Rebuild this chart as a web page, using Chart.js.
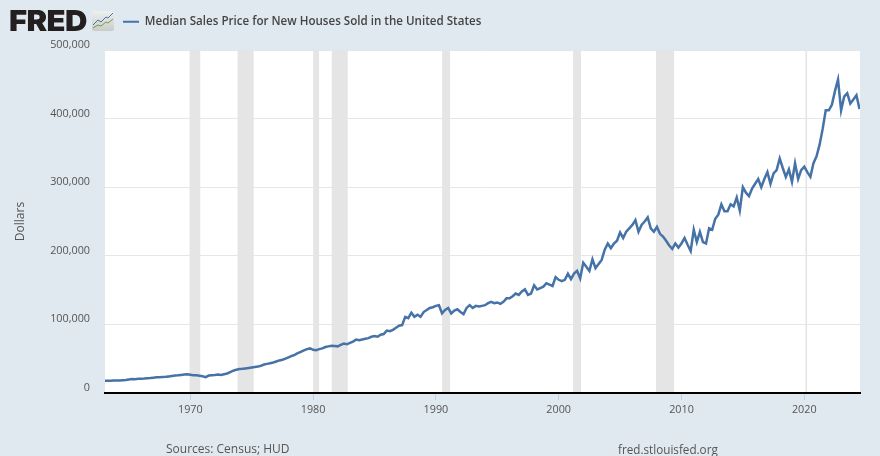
<!DOCTYPE html>
<html>
<head>
<meta charset="utf-8">
<title>Median Sales Price for New Houses Sold in the United States</title>
<script src="https://cdn.jsdelivr.net/npm/chart.js@4"></script>
<style>
    html, body { margin: 0; padding: 0; background: #e1e9f0; }
    #wrap { position: relative; width: 880px; height: 456px; overflow: hidden; font-family: "Open Sans", sans-serif; }
    canvas { position: absolute; left: 0; top: 0; }
    .logo { position: absolute; left: 9px; top: 3px; font: 900 29px/36px Inter, sans-serif; color: #231f20; letter-spacing: -0.6px; transform: scaleX(1.07); transform-origin: left center; }
    .icon { position: absolute; left: 92px; top: 11px; }
    .foot { position: absolute; top: 441px; font-size: 12px; line-height: 16px; color: #555; }
</style>
</head>
<body>
<div id="wrap">
    <canvas id="fredChart" width="880" height="456"></canvas>
    <div class="logo">FRED</div>
    <svg class="icon" width="22" height="20" viewBox="0 0 22 20">
        <defs><linearGradient id="g" x1="0" y1="0" x2="0" y2="1"><stop offset="0" stop-color="#eef0f0"/><stop offset="1" stop-color="#c9ccc8"/></linearGradient></defs>
        <rect width="22" height="20" rx="2" fill="url(#g)"/>
        <polyline points="1,14 6,9 9,11 14,6 16,7 21,2" fill="none" stroke="#4572a7" stroke-width="1"/>
        <polyline points="1,17 6,14 9,15 14,11 16,12 21,8" fill="none" stroke="#7a9a3a" stroke-width="1"/>
    </svg>
    <div class="foot" style="left:166px">Sources: Census; HUD</div>
    <div class="foot" style="left:618px;font-size:11.7px">fred.stlouisfed.org</div>
</div>
<script>
    // Quarterly values, starting 1963
    const startYear = 1963;
    const prices1960s = [
        17800, 18000, 17900, 18200, 18400, 18200, 18600, 19000, 19800, 20500, 20200, 20600, 20900, 21000,
        21600, 21900, 22400, 22800, 23000, 23500, 23600, 24200, 24800, 25400, 25800, 26400, 27000, 27200
    ];
    const prices1970s = [
        26600, 26000, 25800, 25000, 24300, 23000, 25400, 26000, 26200, 26800, 26400, 27400, 28500, 30500,
        32500, 34000, 35000, 35200, 35800, 36500, 37200, 38000, 38500, 39600, 41500, 42500, 43500, 44500,
        46000, 47500, 48500, 50000, 52000, 54000, 55500, 58000, 60000, 62000, 64000, 65000
    ];
    const prices1980s = [
        63000, 62500, 64000, 65000, 67000, 68000, 69000, 68500, 68000, 70000, 72000, 71000, 73000, 75000,
        78000, 77000, 78000, 79000, 80000, 82000, 83000, 82000, 85000, 86000, 91000, 90000, 92000, 95000,
        98000, 99000, 111000, 109000, 117000, 111000, 114000, 111000, 118000, 121000, 124000, 125000
    ];
    const prices1990s = [
        127000, 128000, 116000, 121000, 124000, 116000, 120000, 122000, 118000, 115000, 124000, 128000,
        124000, 127000, 126000, 127000, 128000, 131000, 133000, 131000, 132000, 130000, 133000, 138000,
        138000, 141000, 145000, 143000, 148000, 151000, 143000, 145000, 157000, 151000, 153000, 155000,
        160000, 158000, 156000, 169000
    ];
    const prices2000s = [
        165000, 163000, 165000, 174000, 166000, 174000, 178000, 167000, 190000, 184000, 178000, 195000,
        182000, 188000, 194000, 209000, 218000, 211000, 218000, 222000, 234000, 226000, 235000, 240000,
        245000, 252000, 235000, 245000, 250000, 256000, 240000, 235000, 242000, 232000, 228000, 222000,
        215000, 210000, 218000, 212000
    ];
    const prices2010s = [
        218000, 226000, 216000, 207000, 238000, 220000, 235000, 220000, 218000, 240000, 238000, 254000,
        260000, 275000, 265000, 265000, 275000, 272000, 285000, 266000, 300000, 292000, 287000, 298000,
        305000, 312000, 300000, 312000, 322000, 305000, 320000, 325000, 342000, 328000, 315000, 326000,
        308000, 335000, 312000, 325000
    ];
    const prices2020s = [
        330000, 322000, 315000, 335000, 345000, 362000, 385000, 412000, 412000, 420000, 440000, 457000,
        412000, 432000, 437000, 422000, 428000, 434000, 414000
    ];
    const prices = [...prices1960s, ...prices1970s, ...prices1980s, ...prices1990s, ...prices2000s, ...prices2010s, ...prices2020s];
    const years = prices.map((p, i) => startYear + i / 4);

    // Recession spans as decimal years
    const recessionStart = [1969.92, 1973.83, 1980.0, 1981.5, 1990.5, 2001.17, 2007.92, 2020.08];
    const recessionEnd = [1970.83, 1975.17, 1980.5, 1982.83, 1991.17, 2001.83, 2009.42, 2020.25];

    const yTicks = [0, 100000, 200000, 300000, 400000, 500000];
    const seriesName = 'Median Sales Price for New Houses Sold in the United States';
    const xMin = 1963.05;
    const xMax = 2024.54;

    // White plot background
    const plotBackground = {
        id: 'plotBackground',
        beforeDraw(chart) {
            const a = chart.chartArea;
            chart.ctx.fillStyle = '#ffffff';
            chart.ctx.fillRect(a.left, a.top, a.right - a.left, a.bottom - a.top);
        }
    };

    const bands = recessionStart.map((s, i) => ({
        label: 'Recession',
        data: [{ x: s, y: yTicks[yTicks.length - 1] }, { x: recessionEnd[i], y: yTicks[yTicks.length - 1] }],
        fill: 'origin',
        backgroundColor: '#e5e5e5',
        borderWidth: 0,
        pointRadius: 0
    }));

    new Chart(document.getElementById('fredChart').getContext('2d'), {
        type: 'line',
        data: {
            datasets: [{
                label: seriesName,
                data: years.map((y, i) => ({ x: y, y: prices[i] })),
                borderColor: '#4572a7',
                backgroundColor: '#4572a7',
                borderWidth: 2.5,
                pointRadius: 0,
                tension: 0
            }, ...bands]
        },
        plugins: [plotBackground],
        options: {
            responsive: false,
            animation: false,
            layout: { padding: { top: -2, right: 20 } },
            scales: {
                x: {
                    type: 'linear',
                    min: xMin,
                    max: xMax,
                    afterFit: s => { s.height = 63; },
                    border: { color: '#000000', width: 2, z: 1 },
                    grid: { drawOnChartArea: false, tickLength: 7, tickColor: '#c0d0e0' },
                    ticks: {
                        stepSize: 10,
                        includeBounds: false,
                        autoSkip: false,
                        maxRotation: 0,
                        padding: 3,
                        color: '#555555',
                        font: { family: 'Open Sans', size: 10.8 },
                        callback: v => String(v)
                    }
                },
                top: {
                    type: 'linear',
                    position: 'top',
                    afterFit: s => { s.height = 12.4; },
                    border: { display: false },
                    grid: { display: false },
                    ticks: { display: false }
                },
                y: {
                    min: 0,
                    max: 500000,
                    afterFit: s => { s.width = 105; },
                    afterBuildTicks: s => { s.ticks = yTicks.map(v => ({ value: v })); },
                    border: { display: false },
                    grid: { color: '#e6e6e6', lineWidth: 1, drawTicks: false },
                    ticks: {
                        padding: 15,
                        labelOffset: -5,
                        color: '#555555',
                        font: { family: 'Open Sans', size: 10.8 },
                        callback: v => v.toLocaleString('en-US')
                    },
                    title: {
                        display: true,
                        text: 'Dollars',
                        color: '#555555',
                        font: { family: 'Open Sans', size: 12 },
                        padding: { top: 13, bottom: 0 }
                    }
                }
            },
            plugins: {
                tooltip: { enabled: false },
                legend: {
                    display: true,
                    position: 'top',
                    align: 'start',
                    fullSize: false,
                    labels: {
                        padding: 18,
                        boxWidth: 16,
                        boxHeight: 2,
                        color: '#444444',
                        font: { family: 'Open Sans', size: 11.6, weight: '600' },
                        filter: item => {
                            item.lineWidth = 0;
                            return item.datasetIndex === 0;
                        }
                    }
                }
            }
        }
    });
</script>
</body>
</html>
